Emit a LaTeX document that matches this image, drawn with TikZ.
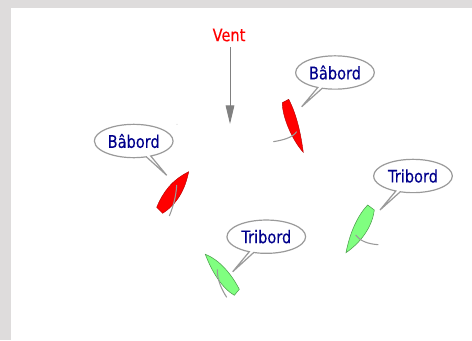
\documentclass[tikz,border=0pt]{standalone}
\usepackage{fontspec}
\setmainfont{DejaVu Sans}[FakeStretch=0.84,FakeBold=0.25]
\usetikzlibrary{shapes,shapes.callouts,arrows.meta}
\definecolor{backgrey}{HTML}{DEDCDC}
\definecolor{linegrey}{HTML}{9A9A9A}
\definecolor{boatgreen}{HTML}{80FF80}
\begin{document}
\begin{tikzpicture}[x=0.75pt,y=-0.75pt,
    every node/.append style={font=\fontsize{13}{15}\selectfont}]
    \tikzstyle{bubble} = [ellipse callout,draw=linegrey,fill=white,line width=0.9pt,
      text=blue!55!black,inner sep=0pt,minimum width=59pt,minimum height=25pt,callout pointer arc=7]
    \tikzstyle{redhull} = [fill=red,draw=red!70!black,line width=0.3pt]
    \tikzstyle{greenhull} = [fill=boatgreen,draw=green!45!black!70,line width=0.4pt]
    \tikzstyle{sail} = [draw=linegrey,line width=0.8pt]
    \fill[backgrey] (0,0) rectangle (472,340);
    \fill[white] (11,8) rectangle (472,340);
    % wind
    \node (vent) at (229,35) [text=red] {Vent};
    \coordinate (ventend) at (230,124);
    \draw[gray,line width=0.7pt,-{Triangle[width=6.5pt,length=14pt,fill=gray]}] (230,47) -- (ventend);
    \fill[linegrey] (177,124.3) circle (0.4);
    % boats
    \path[redhull] (282.3,102.7) -- (288.7,99.3) .. controls (297,115) and (301,135) .. (303.3,152.3)
      .. controls (292,140) and (282,116) .. cycle;
    \draw[sail] (273.3,141.7) .. controls (283,140) and (292,138) .. (296.7,131.7);
    \path[redhull] (188.7,171.7) .. controls (172,180) and (163,192) .. (156.7,207.3) -- (162.7,213.3)
      .. controls (177,204) and (185,190) .. cycle;
    \draw[sail] (176.7,185) .. controls (176,197) and (173,207) .. (169.3,216);
    \path[greenhull] (205.3,254.3) .. controls (220,260) and (232,275) .. (239.3,289.3) -- (234.3,295.3)
      .. controls (222,288) and (212,272) .. cycle;
    \draw[sail] (217.3,269.3) .. controls (217,280) and (222,290) .. (226.7,297.3);
    \path[greenhull] (346,252.7) .. controls (350,232) and (358,215) .. (367.7,205) -- (374.3,210)
      .. controls (372,228) and (360,243) .. cycle;
    \draw[sail] (355.7,235) .. controls (360,241) and (368,244) .. (378.3,244.7);
    % speech bubbles
    \node (babordtop) at (335,72.5) [bubble,callout absolute pointer={(301.7,106.7)}] {Bâbord};
    \node (babordleft) at (133.7,141) [bubble,callout absolute pointer={(166.7,175.3)}] {Bâbord};
    \node (tribordlow) at (266.3,236.7) [bubble,callout absolute pointer={(232.7,271.7)}] {Tribord};
    \node (tribordright) at (413,176) [bubble,callout absolute pointer={(380,210)}] {Tribord};
\end{tikzpicture}
\end{document}
